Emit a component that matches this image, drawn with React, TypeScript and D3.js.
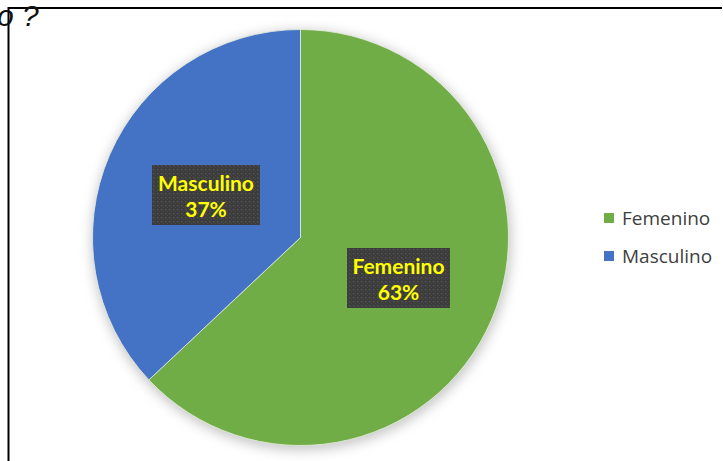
import { useRef, useEffect } from 'react'
import * as d3 from 'd3'

const categories = ['Femenino', 'Masculino']
const values = [63, 37]
const colors = ['#70AD47', '#4472C4']

const App = () => {
	const svgRef = useRef<SVGSVGElement | null>(null)

	useEffect(() => {
		if (!svgRef.current) return
		const width = 723
		const height = 461
		const cx = 300.5
		const cy = 237.5
		const r = 208

		const svg = d3.select(svgRef.current)
		svg.selectAll('*').remove()
		svg.attr('width', width).attr('height', height)

		const defs = svg.append('defs')
		const blur = defs.append('filter').attr('id', 'glow').attr('x', '-20%').attr('y', '-20%').attr('width', '140%').attr('height', '140%')
		blur.append('feGaussianBlur').attr('stdDeviation', 6)

		const pat = defs
			.append('pattern')
			.attr('id', 'dots')
			.attr('width', 4)
			.attr('height', 4)
			.attr('patternUnits', 'userSpaceOnUse')
		pat.append('rect').attr('width', 4).attr('height', 4).attr('fill', '#3c3c3c')
		pat.append('rect').attr('x', 1).attr('y', 1).attr('width', 1.5).attr('height', 1.5).attr('fill', '#525252')
		pat.append('rect').attr('x', 3).attr('y', 3).attr('width', 1).attr('height', 1).attr('fill', '#484848')

		svg.append('rect').attr('width', width).attr('height', height).attr('fill', '#fff')

		// frame lines
		svg.append('line').attr('x1', 8).attr('x2', 722).attr('y1', 8).attr('y2', 8).attr('stroke', '#000').attr('stroke-width', 2)
		svg.append('line').attr('x1', 8.5).attr('x2', 8.5).attr('y1', 7).attr('y2', height).attr('stroke', '#000').attr('stroke-width', 2)

		svg
			.append('text')
			.attr('x', -3)
			.attr('y', 26)
			.attr('font-family', 'Liberation Sans, Arial, sans-serif')
			.attr('font-style', 'italic')
			.attr('font-size', 30)
			.attr('fill', '#111')
			.text('o ?')

		const g = svg.append('g').attr('transform', `translate(${cx},${cy})`)

		// soft shadow
		g.append('circle').attr('cx', 1).attr('cy', 3).attr('r', r + 2).attr('fill', '#c8c8c8').attr('filter', 'url(#glow)')

		const pie = d3.pie<number>().sort(null).value((d) => d)
		const arcs = pie(values)
		const arc = d3.arc<d3.PieArcDatum<number>>().innerRadius(0).outerRadius(r)

		g.selectAll('path.slice')
			.data(arcs)
			.enter()
			.append('path')
			.attr('class', 'slice')
			.attr('d', arc)
			.attr('fill', (_, i) => colors[i])
			.attr('stroke', '#e8f0e0')
			.attr('stroke-width', 0.8)

		// data labels
		const labelPos = [
			{ x: 398.5, y: 248, w: 103 },
			{ x: 206, y: 165, w: 108 },
		]
		arcs.forEach((a, i) => {
			const p = labelPos[i]
			const lg = svg.append('g')
			lg.append('rect')
				.attr('x', p.x - p.w / 2)
				.attr('y', p.y)
				.attr('width', p.w)
				.attr('height', 60)
				.attr('fill', 'url(#dots)')
			lg.append('text')
				.attr('x', p.x)
				.attr('y', p.y + 26)
				.attr('text-anchor', 'middle')
				.attr('font-family', 'Lato, Open Sans, sans-serif')
				.attr('font-weight', 'bold')
				.attr('font-size', 21)
				.attr('fill', '#FFFF00')
				.text(categories[i])
			lg.append('text')
				.attr('x', p.x)
				.attr('y', p.y + 52)
				.attr('text-anchor', 'middle')
				.attr('font-family', 'Lato, Open Sans, sans-serif')
				.attr('font-weight', 'bold')
				.attr('font-size', 21)
				.attr('fill', '#FFFF00')
				.text(`${a.data}%`)
		})

		// legend
		const legend = svg.append('g').attr('transform', 'translate(604,0)')
		const ly = d3.scalePoint<string>().domain(categories).range([218, 256])
		categories.forEach((c, i) => {
			legend.append('rect').attr('x', 0).attr('y', ly(c)! - 5).attr('width', 10).attr('height', 10).attr('fill', colors[i])
			legend
				.append('text')
				.attr('x', 18)
				.attr('y', ly(c)! + 7)
				.attr('font-family', 'Open Sans, sans-serif')
				.attr('font-size', 19)
				.attr('fill', '#404040')
				.text(c)
		})
	}, [])

	return (
		<div style={{ position: 'fixed', top: 0, left: 0 }}>
			<svg ref={svgRef}></svg>
		</div>
	)
}

export default App
